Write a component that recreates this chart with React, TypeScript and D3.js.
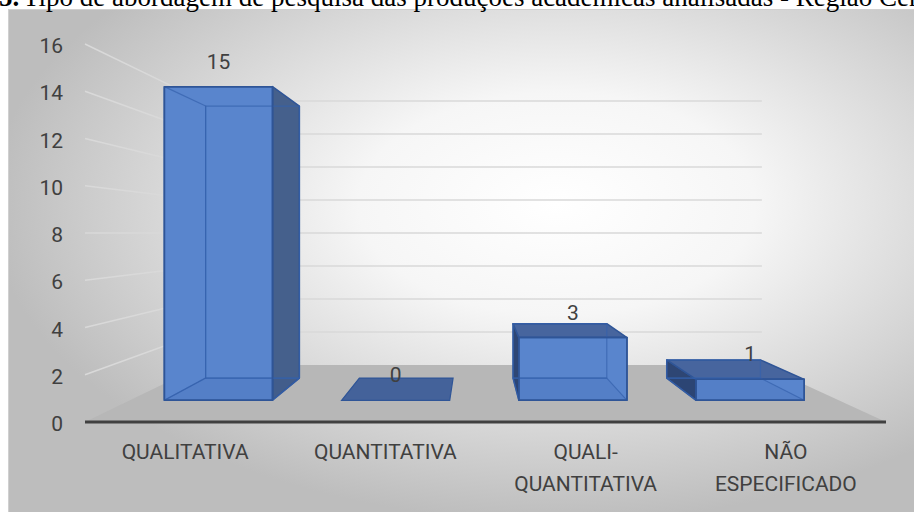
import * as d3 from 'd3'

const W = 914
const H = 512

const categories = ['QUALITATIVA', 'QUANTITATIVA', 'QUALI-QUANTITATIVA', 'NÃO ESPECIFICADO']
const labelLines = [['QUALITATIVA'], ['QUANTITATIVA'], ['QUALI-', 'QUANTITATIVA'], ['NÃO', 'ESPECIFICADO']]
const counts = [15, 0, 3, 1]
const yTicks = [0, 2, 4, 6, 8, 10, 12, 14, 16]

const TITLE_NUM = '5.'
const TITLE = 'Tipo de abordagem de pesquisa das produções acadêmicas analisadas - Região Centro-Oeste'

// camera: one-point perspective, depth 0 = front of floor, 1 = back wall
const VX = 475
const VY = 233
const K = 0.4327
const Z_FRONT = 0.3
const Z_BACK = 0.7

const FONT = 'Roboto, sans-serif'
const TEXT = '#404040'

type P = [number, number]

function proj(x: number, y: number, z: number): P {
  const s = 1 / (1 + K * z)
  return [VX + (x - VX) * s, VY + (y - VY) * s]
}

const pts = (arr: P[]) => arr.map(p => p.join(',')).join(' ')

export default function App() {
  const x = d3.scaleBand<string>()
    .domain(categories)
    .range([85, 886])
    .paddingInner(0.39)
    .paddingOuter(0.195)

  const y = d3.scaleLinear().domain([0, 16]).range([422, 44])

  const [xMin, xMax] = x.range()
  const y0 = y(0)

  const floor: P[] = [proj(xMin, y0, 0), proj(xMax, y0, 0), proj(xMax, y0, 1), proj(xMin, y0, 1)]

  // gridlines run along the left wall, then across the back wall
  const grid = yTicks.filter(v => v > 0).map(v => {
    const a = proj(xMin, y(v), 0)
    const b = proj(xMin, y(v), 1)
    const c = proj(xMax, y(v), 1)
    return `M${a}L${b}L${c}`
  })

  const bars = categories.map((cat, i) => {
    const v = counts[i]
    const x0 = x(cat)!
    const x1 = x0 + x.bandwidth()
    const yt = y(v)
    const yb = y0
    const faces = {
      front: [proj(x0, yb, Z_FRONT), proj(x1, yb, Z_FRONT), proj(x1, yt, Z_FRONT), proj(x0, yt, Z_FRONT)] as P[],
      back: [proj(x0, yb, Z_BACK), proj(x1, yb, Z_BACK), proj(x1, yt, Z_BACK), proj(x0, yt, Z_BACK)] as P[],
      left: [proj(x0, yb, Z_FRONT), proj(x0, yb, Z_BACK), proj(x0, yt, Z_BACK), proj(x0, yt, Z_FRONT)] as P[],
      right: [proj(x1, yb, Z_FRONT), proj(x1, yb, Z_BACK), proj(x1, yt, Z_BACK), proj(x1, yt, Z_FRONT)] as P[],
      top: [proj(x0, yt, Z_FRONT), proj(x1, yt, Z_FRONT), proj(x1, yt, Z_BACK), proj(x0, yt, Z_BACK)] as P[],
      bottom: [proj(x0, yb, Z_FRONT), proj(x1, yb, Z_FRONT), proj(x1, yb, Z_BACK), proj(x0, yb, Z_BACK)] as P[],
    }
    const fp = proj(x0 + x.bandwidth() / 2, yt, Z_FRONT)
    const leftVis = proj(x0, yt, Z_FRONT)[0] > VX
    const rightVis = proj(x1, yt, Z_FRONT)[0] < VX
    const topVis = yt > VY
    return { cat, v, faces, fp, leftVis, rightVis, topVis }
  })

  return (
    <svg width={W} height={H} style={{ position: 'absolute', left: 0, top: 0, display: 'block' }}>
      <defs>
        <radialGradient id="bg" cx="0.6" cy="0.38" r="0.62" fx="0.6" fy="0.38">
          <stop offset="0" stopColor="#ffffff" />
          <stop offset="0.35" stopColor="#f6f6f6" />
          <stop offset="1" stopColor="#bdbdbd" />
        </radialGradient>
      </defs>
      <rect width={W} height={H} fill="#ffffff" />
      <rect x={8.5} y={9.5} width={W} height={H} fill="url(#bg)" stroke="#d0d0d0" />

      {/* title, cut off at the top like the source */}
      <text y={5.5} fontFamily="'Liberation Serif', 'Times New Roman', serif" fontSize={27} fill="#000">
        <tspan x={-1} fontWeight="bold">{TITLE_NUM}</tspan>
        <tspan x={23}>{TITLE}</tspan>
      </text>

      {/* floor */}
      <polygon points={pts(floor)} fill="#b7b7b7" />

      {grid.map((d, i) => (
        <path key={i} d={d} fill="none" stroke="#d9d9d9" strokeWidth={1.5} />
      ))}

      {/* bars */}
      {bars.map(b => {
        if (b.v === 0) {
          return (
            <polygon key={b.cat} points={pts(b.faces.top)} fill="#44629a" stroke="#2f5597" strokeWidth={1.2} />
          )
        }
        return (
          <g key={b.cat} strokeLinejoin="round">
            {b.leftVis && <polygon points={pts(b.faces.left)} fill="#2e4674" stroke="#2f5597" strokeWidth={1.5} />}
            {b.rightVis && <polygon points={pts(b.faces.right)} fill="#45608c" stroke="#2f5597" strokeWidth={1.5} />}
            {b.topVis && <polygon points={pts(b.faces.top)} fill="#47659e" stroke="#2f5597" strokeWidth={1.5} />}
            <polygon points={pts(b.faces.front)} fill="#5985cd" stroke="#2f5597" strokeWidth={1.5} />
            {/* see-through edges */}
            <polygon points={pts(b.faces.bottom)} fill="#1f3f7a" fillOpacity={0.07} stroke="#3461ad" strokeOpacity={0.7} strokeWidth={1.2} />
            <polygon points={pts(b.faces.back)} fill="none" stroke="#3461ad" strokeOpacity={0.7} strokeWidth={1.2} />
            {!b.leftVis && <polygon points={pts(b.faces.left)} fill="none" stroke="#3461ad" strokeOpacity={0.7} strokeWidth={1.2} />}
            <polygon points={pts(b.faces.front)} fill="none" stroke="#2f5597" strokeWidth={1.5} />
          </g>
        )
      })}

      {/* x axis line */}
      <line x1={floor[0][0]} y1={floor[0][1]} x2={floor[1][0]} y2={floor[1][1]} stroke="#404040" strokeWidth={3} />

      {yTicks.map(v => (
        <text key={v} x={63} y={y(v) + 2} textAnchor="end" dominantBaseline="central"
          fontFamily={FONT} fontSize={21} fill={TEXT}>{v}</text>
      ))}

      {/* data labels */}
      {bars.map(b => (
        <text key={b.cat} x={b.fp[0]} y={b.fp[1] - 25} textAnchor="middle" dominantBaseline="central"
          fontFamily={FONT} fontSize={21} fill={TEXT}>{b.v}</text>
      ))}

      {categories.map((cat, i) => (
        <text key={cat} x={x(cat)! + x.bandwidth() / 2} y={452} textAnchor="middle"
          fontFamily={FONT} fontSize={21} fill={TEXT}>
          {labelLines[i].map((ln, j) => (
            <tspan key={j} x={x(cat)! + x.bandwidth() / 2} dy={j === 0 ? 7 : 32}>{ln}</tspan>
          ))}
        </text>
      ))}
    </svg>
  )
}
